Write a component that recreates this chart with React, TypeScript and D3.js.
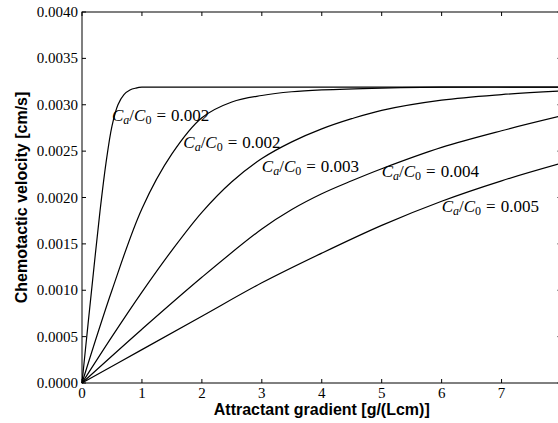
import React from 'react';
import * as d3 from 'd3';

// values (x = attractant gradient, y = velocity)
const curve1X = [0, 0.1, 0.2, 0.3, 0.4, 0.5, 0.6, 0.7, 0.8, 0.9, 1.0, 1.2, 1.6, 8];
const curve1Y = [0, 0.00063, 0.00125, 0.00185, 0.00237, 0.00277, 0.003, 0.00311, 0.00316, 0.00318, 0.00319, 0.00319, 0.00319, 0.00319];

const curve2X = [0, 0.5, 1, 1.5, 2, 2.5, 3, 3.5, 4, 5, 6, 8];
const curve2Y = [0, 0.001, 0.00188, 0.00247, 0.00286, 0.00303, 0.0031, 0.00314, 0.00316, 0.00318, 0.00319, 0.00319];

const curve3X = [0, 0.5, 1, 1.5, 2, 2.5, 3, 3.5, 4, 4.5, 5, 6, 7, 8];
const curve3Y = [0, 0.0005, 0.00098, 0.00143, 0.00184, 0.00217, 0.00242, 0.0026, 0.00274, 0.00285, 0.00294, 0.00305, 0.00311, 0.00315];

const curve4X = [0, 1, 2, 3, 3.5, 4, 4.5, 5, 6, 7, 8];
const curve4Y = [0, 0.00058, 0.00114, 0.00166, 0.00187, 0.00204, 0.00218, 0.00231, 0.00254, 0.00272, 0.00288];

const curve5X = [0, 1, 2, 3, 4, 5, 6, 7, 8];
const curve5Y = [0, 0.00036, 0.00072, 0.00108, 0.0014, 0.0017, 0.00196, 0.00218, 0.00237];

const curveXs = [curve1X, curve2X, curve3X, curve4X, curve5X];
const curveYs = [curve1Y, curve2Y, curve3Y, curve4Y, curve5Y];

// annotations: ratio text and the data point where the label starts
const labelRatios = ['0.002', '0.002', '0.003', '0.004', '0.005'];
const labelX = [0.5, 1.69, 3.0, 5.0, 6.0];
const labelY = [0.00282, 0.00253, 0.00227, 0.00222, 0.00184];

const xTicks = [0, 1, 2, 3, 4, 5, 6, 7];
const xTickMarks = [0, 1, 2, 3, 4, 5, 6, 7, 8];
const yTicks = [0, 0.0005, 0.001, 0.0015, 0.002, 0.0025, 0.003, 0.0035, 0.004];

const W = 558;
const H = 423;
const left = 82;
const right = 561.5;
const top = 12;
const bottom = 383;
const tick = 4;

const App = () => {
  const x = d3.scaleLinear().domain([0, 8]).range([left, right]);
  const y = d3.scaleLinear().domain([0, 0.004]).range([bottom, top]);

  const line = d3.line<[number, number]>()
    .x(d => x(d[0]))
    .y(d => y(d[1]))
    .curve(d3.curveCatmullRom.alpha(0.5));

  const serif = '"Liberation Serif", "Times New Roman", serif';
  const sans = '"Liberation Sans", Arial, sans-serif';

  return (
    <svg width={W} height={H} style={{ position: 'absolute', left: 0, top: 0, background: '#fff' }}>
      <g>
        {curveXs.map((xs, i) => (
          <path
            key={i}
            d={line(xs.map((v, j) => [v, curveYs[i][j]] as [number, number])) || ''}
            fill="none"
            stroke="#000"
            strokeWidth={1.2}
          />
        ))}
      </g>

      {/* frame */}
      <rect x={left} y={top} width={right - left} height={bottom - top} fill="none" stroke="#000" strokeWidth={1} />

      {/* x ticks, inward on bottom and top */}
      {xTickMarks.map(t => (
        <g key={'x' + t}>
          <line x1={x(t)} x2={x(t)} y1={bottom} y2={bottom - tick} stroke="#000" />
          <line x1={x(t)} x2={x(t)} y1={top} y2={top + tick} stroke="#000" />
        </g>
      ))}
      {xTicks.map(t => (
        <text key={'xl' + t} x={x(t)} y={bottom + 15} textAnchor="middle"
          fontFamily={serif} fontSize={15} fill="#000">{t}</text>
      ))}

      {/* y ticks, inward on left and right */}
      {yTicks.map(t => (
        <g key={'y' + t}>
          <line x1={left} x2={left + tick} y1={y(t)} y2={y(t)} stroke="#000" />
          <line x1={right} x2={right - tick} y1={y(t)} y2={y(t)} stroke="#000" />
          <text x={left - 4} y={y(t) + 5} textAnchor="end"
            fontFamily={serif} fontSize={15} fill="#000">{t.toFixed(4)}</text>
        </g>
      ))}

      {/* curve annotations */}
      {labelRatios.map((r, i) => (
        <text key={'lab' + i} x={x(labelX[i])} y={y(labelY[i])}
          fontFamily={serif} fontSize={17} fill="#000">
          <tspan fontStyle="italic">C</tspan>
          <tspan fontStyle="italic" fontSize={12} dy={3}>a</tspan>
          <tspan dy={-3}>/</tspan>
          <tspan fontStyle="italic">C</tspan>
          <tspan fontSize={12} dy={3}>0</tspan>
          <tspan dy={-3} dx={5}>=</tspan>
          <tspan dx={5}>{r}</tspan>
        </text>
      ))}

      {/* axis titles */}
      <text x={(left + right) / 2} y={415} textAnchor="middle"
        fontFamily={sans} fontWeight="bold" fontSize={16} fill="#000">
        Attractant gradient [g/(Lcm)]
      </text>
      <text transform={`translate(27, ${(top + bottom) / 2}) rotate(-90)`} textAnchor="middle"
        fontFamily={sans} fontWeight="bold" fontSize={16} fill="#000">
        Chemotactic velocity [cm/s]
      </text>
    </svg>
  );
};

export default App;
